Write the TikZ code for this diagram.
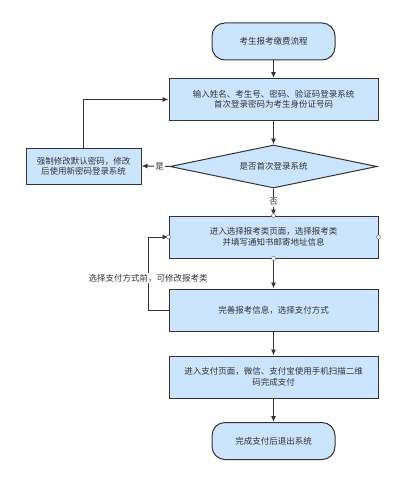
\documentclass[tikz,border=0pt]{standalone}
\usepackage{fontspec}
\setmainfont{Noto Sans CJK SC}
\usetikzlibrary{shapes.geometric,arrows.meta}
\definecolor{boxfill}{HTML}{CCE5FF}
\definecolor{boxline}{HTML}{333333}
\definecolor{txt}{HTML}{333333}
\tikzset{
  base/.style={draw=boxline, line width=1pt, fill=boxfill, text=txt, font=\fontsize{8.5}{10.5}\selectfont, align=center, inner sep=0pt},
  procbox/.style={base, minimum width=209pt, minimum height=42pt},
  termbox/.style={base, rounded corners=13pt, minimum width=123pt, minimum height=37pt},
  sidebox/.style={base, minimum width=115pt, minimum height=36pt},
  decbox/.style={base, diamond, aspect=4.8, minimum width=207pt, minimum height=43pt},
  conn/.style={draw=boxline, line width=1pt, -{Latex[length=6pt,width=5pt]}},
  lbl/.style={fill=white, text=txt, font=\fontsize{8.5}{10}\selectfont, inner sep=1pt},
  handle/.style={circle, draw=boxline!70, fill=white, line width=0.5pt, minimum size=4pt, inner sep=0pt},
}
\begin{document}
\begin{tikzpicture}[x=1pt,y=-1pt]
\useasboundingbox[fill=white] (0,0) rectangle (415,503);
\node[termbox] (start) at (273.5,41.5) {考生报考缴费流程};
\node[procbox] (login) at (273.5,99.5) {输入姓名、考生号、密码、验证码登录系统\\首次登录密码为考生身份证号码};
\node[decbox] (first) at (273.5,166.5) {是否首次登录系统};
\node[sidebox] (change) at (83.5,166) {强制修改默认密码，修改\\后使用新密码登录系统};
\node[procbox] (select) at (273.5,237) {进入选择报考类页面，选择报考类\\并填写通知书邮寄地址信息};
\node[procbox] (info) at (273.5,310) {完善报考信息，选择支付方式};
\node[procbox] (pay) at (273.5,377) {进入支付页面，微信、支付宝使用手机扫描二维\\码完成支付};
\node[termbox] (end) at (273.5,441) {完成支付后退出系统};
\coordinate (loopx) at (148,310);
\draw[conn] (start) -- (login);
\draw[conn] (login) -- (first);
\draw[conn] (first.west) -- node[lbl, pos=0.35] (yes) {是} (change.east);
\draw[conn] (change.north) |- (login.west);
\draw[conn] (first.south) -- node[lbl, pos=0.5] (no) {否} (select.north);
\draw[conn] (select) -- (info);
\draw[conn] (info.west) -- (loopx) |- node[lbl, pos=0.22] (back) {选择支付方式前，可修改报考类} (select.west);
\draw[conn] (info) -- (pay);
\draw[conn] (pay) -- (end);
\node[handle] (h1) at (select.north) {};
\node[handle] (h2) at (select.south) {};
\node[handle] (h3) at (select.west) {};
\node[handle] (h4) at (select.east) {};
\end{tikzpicture}
\end{document}
